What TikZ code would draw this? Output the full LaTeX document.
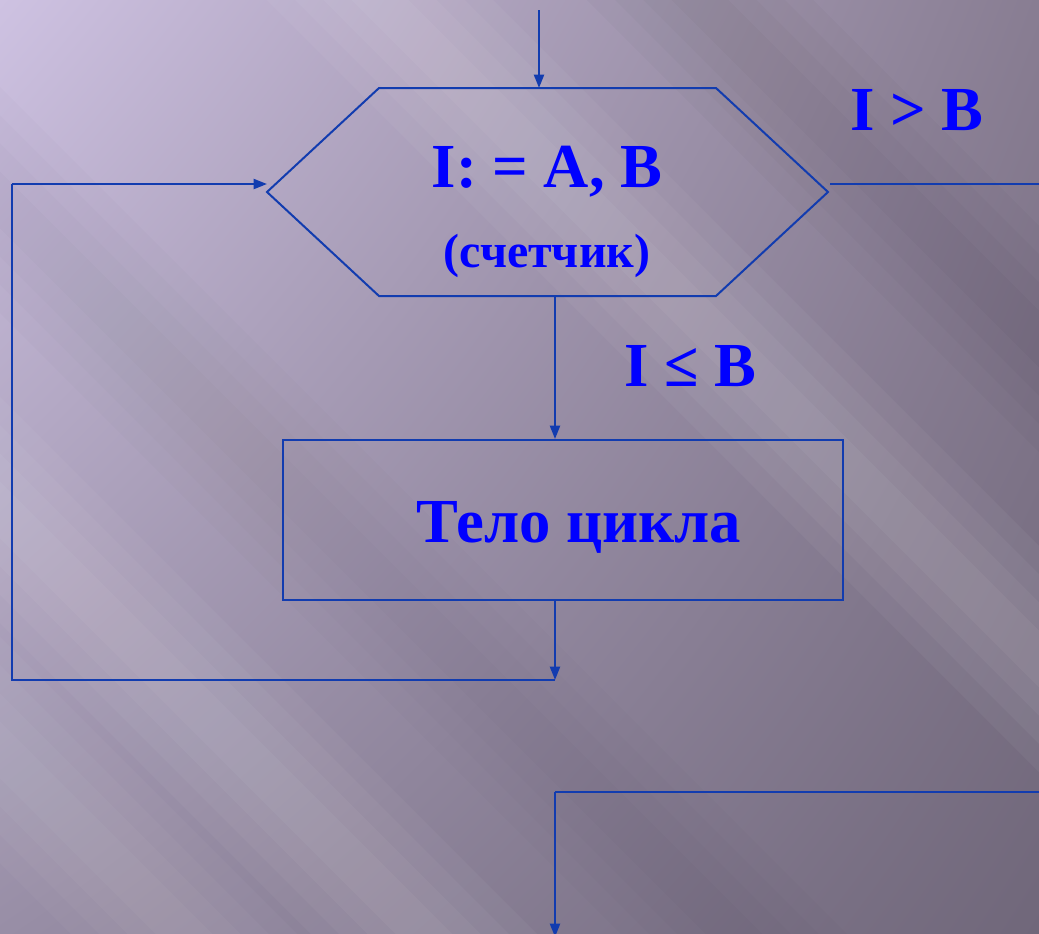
\documentclass[tikz,border=0pt]{standalone}
\usepackage{fontspec}
\setmainfont{Liberation Serif}
\usetikzlibrary{arrows.meta,calc,shadings}
\definecolor{ln}{RGB}{18,60,175}
\definecolor{tx}{RGB}{0,0,255}
\definecolor{bgTL}{RGB}{206,194,226}
\definecolor{bgTR}{RGB}{136,125,146}
\definecolor{bgBL}{RGB}{152,142,166}
\definecolor{bgBR}{RGB}{112,103,122}
\newcommand\softband[3]{%
  \foreach \w in {30,60,90,120}{\draw[white,opacity=#3,line width=\w pt] #1 -- #2;}}
\newcommand\darkband[3]{%
  \foreach \w in {30,60,90,120}{\draw[black,opacity=#3,line width=\w pt] #1 -- #2;}}
\begin{document}
\begin{tikzpicture}[x=0.75pt,y=-0.75pt,
  line/.style={draw=ln,line width=1.5pt},
  arr/.style={line,-{Triangle[length=10pt,width=7.5pt]}},
  lbl/.style={text=tx,font=\bfseries\fontsize{47}{52}\selectfont,inner sep=0pt,anchor=base},
  small/.style={text=tx,font=\bfseries\fontsize{36}{40}\selectfont,inner sep=0pt,anchor=base}]
\useasboundingbox (0,0) rectangle (1039,933);
% background
\shade[upper left=bgTL,upper right=bgTR,lower left=bgBL,lower right=bgBR] (0,0) rectangle (1039,933);
\begin{scope}
\clip (0,0) rectangle (1039,933);
\softband{(-240,-620)}{(1760,1380)}{0.045}
\softband{(-770,-260)}{(1230,1740)}{0.04}
\softband{(-700,50)}{(1300,2050)}{0.03}
\darkband{(200,-500)}{(2200,1500)}{0.02}
\darkband{(-500,-300)}{(1500,1700)}{0.012}
\end{scope}
% hexagon
\coordinate (h1) at (379,88);
\coordinate (h2) at (716,88);
\coordinate (h3) at (828,192);
\coordinate (h4) at (716,296);
\coordinate (h5) at (379,296);
\coordinate (h6) at (267,192);
\draw[line,line join=miter] (h1) -- (h2) -- (h3) -- (h4) -- (h5) -- (h6) -- cycle;
\node[lbl] (init) at (547,187) {I: = A, B};
\node[small] (cnt) at (547,267) {(счетчик)};
% body box
\node[line,minimum width=420pt,minimum height=120pt,inner sep=0pt] (body) at (563,520) {};
\node[lbl] (bodytxt) at (579,542) {Тело цикла};
% labels
\node[lbl] (gt) at (917,130) {I > B};
\node[lbl] (le) at (690,386) {I ≤ B};
% connectors
\coordinate (top) at (539,10);
\coordinate (ht) at (539,88);
\draw[arr] (top) -- (ht);
\coordinate (hb) at (555,296);
\draw[arr] (hb) -- (hb |- body.north);
\coordinate (bb) at (555,600);
\coordinate (join) at (555,680);
\coordinate (lc) at (12,680);
\coordinate (lt) at (12,184);
\coordinate (hin) at (267,184);
\draw[arr] (bb) -- (join);
\draw[line] (join) -- (lc) -- (lt);
\draw[arr] (lt) -- (hin);
\coordinate (hout) at (830,184);
\coordinate (rx) at (1040,184);
\draw[line] (hout) -- (rx);
\coordinate (rin) at (1040,792);
\coordinate (bc) at (555,792);
\coordinate (exit) at (555,937);
\draw[line] (rin) -- (bc);
\draw[arr] (bc) -- (exit);
\end{tikzpicture}
\end{document}
